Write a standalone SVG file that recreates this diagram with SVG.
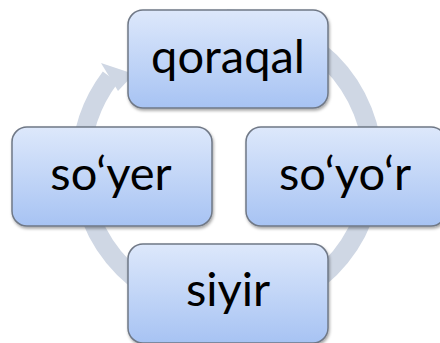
<svg xmlns="http://www.w3.org/2000/svg" width="440" height="343" viewBox="0 0 440 343">
<defs>
<linearGradient id="boxGrad" x1="0" y1="0" x2="0" y2="1">
<stop offset="0" stop-color="#DDE8FB"/>
<stop offset="1" stop-color="#A7C3F3"/>
</linearGradient>
<filter id="shadow" x="-10%" y="-10%" width="125%" height="130%">
<feDropShadow dx="1" dy="2" stdDeviation="1.6" flood-color="#000" flood-opacity="0.35"/>
</filter>
</defs>
<style>
.ring{fill:none;stroke:#CFD7E4;stroke-width:19;stroke-linecap:butt}
.head{fill:#CFD7E4}
.box{fill:url(#boxGrad);stroke:#6F7886;stroke-width:1.5;filter:url(#shadow)}
.lbl{font-family:Lato,"Open Sans","Liberation Sans",sans-serif;font-size:47px;fill:#000;text-anchor:middle}
</style>
<rect width="440" height="343" fill="#FFFFFF"/>
<g id="connectors">
<path class="ring" d="M227,19 A146,146 0 0 1 373,165"/>
<path class="ring" d="M373,165 A146,146 0 0 1 227,311"/>
<path class="ring" d="M227,311 A146,146 0 0 1 81,165"/>
<path class="ring" d="M81,165 A146,146 0 0 1 110.4,77.1"/>
<polygon class="head" points="101,63 134,74 118,91"/>
</g>
<g id="node-qoraqal">
<rect class="box" x="128" y="10" width="200" height="98" rx="15"/>
<text class="lbl" x="228" y="73">qoraqal</text>
</g>
<g id="node-soyor">
<rect class="box" x="246" y="127" width="200" height="99" rx="15"/>
<text class="lbl" x="345" y="190">so‘yo‘r</text>
</g>
<g id="node-siyir">
<rect class="box" x="128" y="244" width="200" height="99" rx="15"/>
<text class="lbl" x="228" y="306">siyir</text>
</g>
<g id="node-soyer">
<rect class="box" x="12" y="127" width="200" height="99" rx="15"/>
<text class="lbl" x="111" y="190">so‘yer</text>
</g>
</svg>
